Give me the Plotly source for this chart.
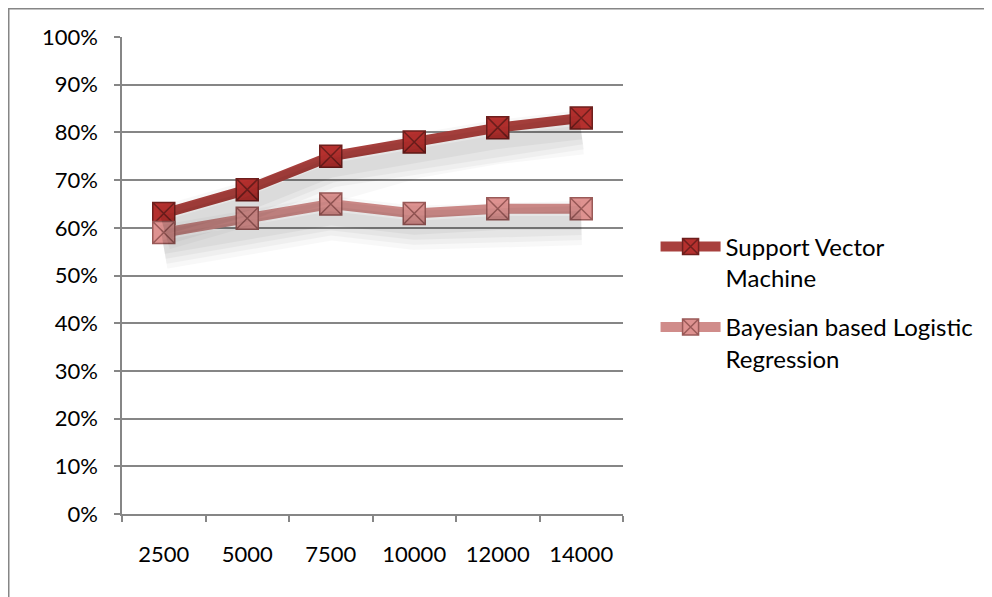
import plotly.graph_objects as go

categories = ["2500", "5000", "7500", "10000", "12000", "14000"]
svm = [0.63, 0.68, 0.75, 0.78, 0.81, 0.83]
blr = [0.59, 0.62, 0.65, 0.63, 0.64, 0.64]
series_names = ["Support Vector<br>Machine", "Bayesian based Logistic<br>Regression"]
y_ticks = [i / 10 for i in range(11)]
y_tick_text = [f"{i*10}%" for i in range(11)]

svm_line = "#A8403D"
svm_fill = "#B5302E"
svm_edge = "#6E1F1D"
blr_line = "#D08C8A"
blr_fill = "#DE9290"
blr_edge = "#9A5A58"

fig = go.Figure()

# soft shadows (drawn on a slightly shifted overlay axis)
for vals in (svm, blr):
    for w, op in ((44, 0.025), (34, 0.03), (24, 0.035), (14, 0.04)):
        fig.add_trace(go.Scatter(x=categories, y=vals, mode="lines", yaxis="y2",
                                 line=dict(color="black", width=w), opacity=op,
                                 hoverinfo="skip", showlegend=False))

fig.add_trace(go.Scatter(x=categories, y=svm, name=series_names[0], mode="lines+markers",
                         legendgroup="a",
                         line=dict(color=svm_line, width=10),
                         marker=dict(symbol="square-x", size=22, color=svm_fill,
                                     line=dict(color=svm_edge, width=1.5))))
fig.add_trace(go.Scatter(x=categories, y=blr, name=series_names[1], mode="lines+markers",
                         legendgroup="b",
                         line=dict(color=blr_line, width=10),
                         marker=dict(symbol="square-x", size=22, color=blr_fill,
                                     line=dict(color=blr_edge, width=1.5))))

font = "Lato, Open Sans, sans-serif"
W, H = 984, 589
L, T = 114, 29
R = W - 615
B = H - 506
fig.update_layout(
    width=W, height=H,
    margin=dict(l=L, r=R, t=T, b=B),
    paper_bgcolor="white", plot_bgcolor="white",
    font=dict(family=font, size=21, color="black"),
    showlegend=True,
    legend=dict(x=1.065, y=0.607, xanchor="left", yanchor="top", valign="top",
                font=dict(size=24), tracegroupgap=15, itemwidth=60,
                bgcolor="rgba(0,0,0,0)"),
    xaxis=dict(type="category", range=[-0.5, 5.5], tickson="boundaries",
               ticks="outside", ticklen=6, tickcolor="#868686", tickwidth=1.5,
               showline=True, linecolor="#868686", linewidth=1.5,
               showgrid=False, ticklabelstandoff=20, tickfont=dict(size=22)),
    yaxis=dict(range=[0, 1], tickvals=y_ticks, ticktext=y_tick_text,
               ticks="outside", ticklen=6, tickcolor="#868686", tickwidth=1.5,
               showline=True, linecolor="#868686", linewidth=1.5,
               showgrid=True, gridcolor="#868686", gridwidth=1.5,
               zeroline=False, ticklabelstandoff=12, tickfont=dict(size=22)),
    yaxis2=dict(range=[0.03, 1.03], overlaying="y", visible=False),
    shapes=[
        dict(type="rect", xref="paper", yref="paper",
             x0=(0.75 - 114) / 501, x1=(1000 - 114) / 501,
             y0=(506 - 600) / 477, y1=(506 - 0.75) / 477,
             line=dict(color="#868686", width=1.5), layer="below"),
    ],
)

fig.write_html("out.html")
